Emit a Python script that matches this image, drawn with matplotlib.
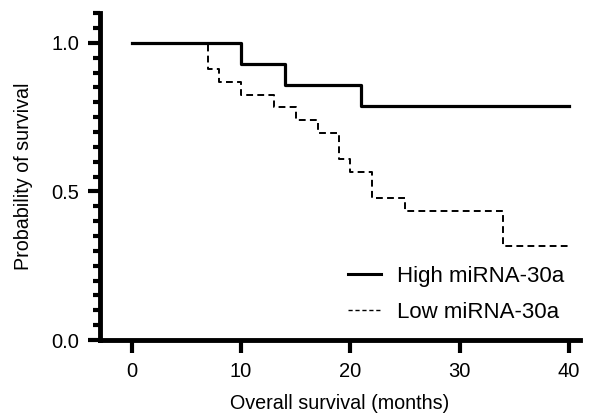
import matplotlib
matplotlib.use("Agg")
import matplotlib.pyplot as plt
from matplotlib.ticker import MultipleLocator

plt.rcParams["font.family"] = ["Liberation Sans", "DejaVu Sans"]

# Kaplan-Meier step data
high_months = [0, 10, 14, 21, 40]
high_surv = [1.0, 0.929, 0.857, 0.786, 0.786]

low_months = [0, 7, 8, 10, 13, 15, 17, 19, 20, 22, 25, 34, 40]
low_surv = [1.0, 0.913, 0.870, 0.826, 0.783, 0.739, 0.696, 0.609, 0.565,
            0.478, 0.435, 0.318, 0.318]

labels = ["High miRNA-30a", "Low miRNA-30a"]

fig = plt.figure(figsize=(5.97, 4.19), dpi=100)
ax = fig.add_axes([0.1675, 0.1885, 0.804, 0.78])

ax.step(high_months, high_surv, where="post", color="black", lw=2.3,
        label=labels[0])
ax.step(low_months, low_surv, where="post", color="black", lw=1.4,
        linestyle=(0, (3.5, 2.2)), label=labels[1])

ax.set_xlim(-2.9, 41)
ax.set_ylim(0, 1.1)
ax.set_xticks([0, 10, 20, 30, 40])
ax.set_yticks([0.0, 0.5, 1.0])
ax.set_yticklabels(["0.0", "0.5", "1.0"])
ax.yaxis.set_minor_locator(MultipleLocator(0.05))

for side in ["top", "right"]:
    ax.spines[side].set_visible(False)
for side in ["left", "bottom"]:
    ax.spines[side].set_linewidth(3.5)

ax.tick_params(axis="both", which="major", direction="out", width=3,
               length=9, labelsize=14.5, pad=6)
ax.tick_params(axis="y", which="minor", direction="out", width=3, length=5)
ax.tick_params(axis="x", pad=7)

ax.set_xlabel("Overall survival (months)", fontsize=14.2, labelpad=9)
ax.set_ylabel("Probability of survival", fontsize=14.2, labelpad=13)

leg = fig.legend(loc="upper left", bbox_to_anchor=(0.583, 0.366),
                 frameon=False, fontsize=16, handlelength=1.5,
                 handletextpad=0.7, labelspacing=0.68, borderpad=0,
                 borderaxespad=0)
leg.get_lines()[0].set_linewidth(2.2)
leg.get_lines()[1].set_linewidth(1.0)
leg.get_lines()[1].set_linestyle((0, (3, 2)))

fig.savefig("out.png", dpi=100)
